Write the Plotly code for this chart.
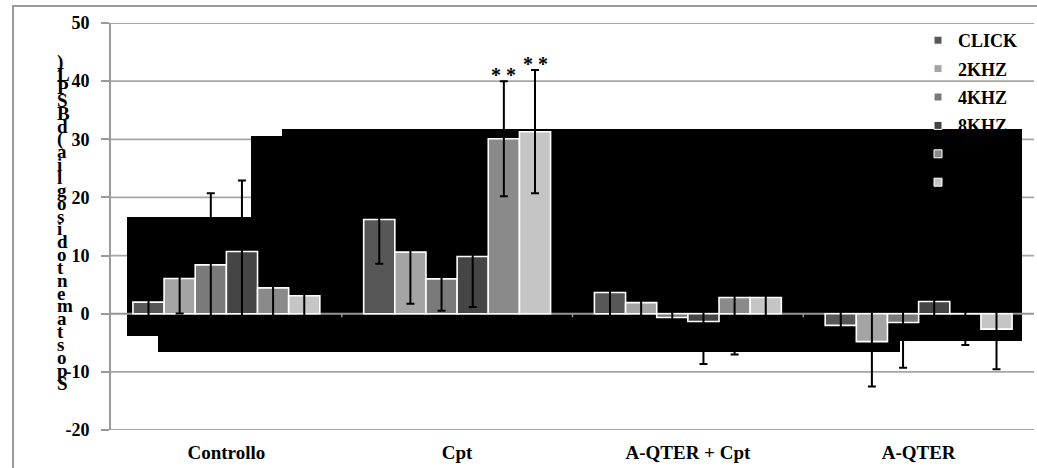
import plotly.graph_objects as go

# ---------------- data ----------------
categories = ["Controllo", "Cpt", "A-QTER + Cpt", "A-QTER"]
series_names = ["CLICK", "2KHZ", "4KHZ", "8KHZ", "16KHZ", "32KHZ"]
click_vals = [2.0, 16.2, 3.65, -2.0]
click_err = [5.0, 7.6, 5.0, 3.5]
k2_vals = [6.05, 10.6, 1.9, -4.8]
k2_err = [6.0, 8.9, 4.0, 7.7]
k4_vals = [8.4, 6.0, -0.65, -1.5]
k4_err = [12.3, 5.5, 4.0, 7.8]
k8_vals = [10.7, 9.85, -1.35, 2.1]
k8_err = [12.2, 8.7, 7.3, 5.0]
k16_vals = [4.45, 30.1, 2.8, 0.0]
k16_err = [7.0, 9.9, 9.8, 5.4]
k32_vals = [3.1, 31.3, 2.8, -2.65]
k32_err = [5.0, 10.6, 5.0, 6.9]
y_ticks = [-20, -10, 0, 10, 20, 30, 40, 50]
y_tick_text = ["-20", "-10", "0", "10", "20", "30", "40", "50"]
y_title = "Spostamento di soglia (dB SPL)"
star_label = "* *"
star_marks = [("Cpt", 4), ("Cpt", 5)]  # (category, series index)

values = [click_vals, k2_vals, k4_vals, k8_vals, k16_vals, k32_vals]
errors = [click_err, k2_err, k4_err, k8_err, k16_err, k32_err]
colors = ["#575757", "#a4a4a4", "#7a7a7a", "#454545", "#8a8a8a", "#c5c5c5"]

# ---------------- geometry ----------------
W, H = 1037, 468
ML, MR, MT, MB = 111, 3, 23, 38
PW, PH = W - ML - MR, H - MT - MB
BARGAP = 0.19
FONT = "Liberation Serif"
GRID = "#a6a6a6"
AXIS = "#959595"


def px2x(px):
    return (px - ML) / PW


def px2y(py):
    return (H - MB - py) / PH


fig = go.Figure()
for name, vals, errs, col in zip(series_names, values, errors, colors):
    fig.add_trace(go.Bar(
        name=name, x=categories, y=vals,
        marker=dict(color=col, line=dict(color="white", width=1.6)),
        error_y=dict(type="data", array=errs, visible=True,
                     color="black", thickness=2, width=4),
        showlegend=False,
    ))
# legend entries (small square keys)
for name, col in zip(series_names, colors):
    fig.add_trace(go.Scatter(
        name=name, x=[None], y=[None], mode="markers",
        marker=dict(symbol="square", size=8, color=col,
                    line=dict(color="white", width=1)),
        legendgroup=name, showlegend=True,
    ))

shapes = []
# gridlines (drawn as shapes so the black blocks can sit on top of them)
for t in y_ticks:
    if t == 0:
        continue
    shapes.append(dict(type="line", xref="paper", yref="y", x0=0, x1=1, y0=t, y1=t,
                       line=dict(color=GRID, width=1.8), layer="below"))
# black overlay blocks
blocks = [
    (127, 217, 251, 336),
    (158, 217, 251, 352),
    (251, 136, 282, 352),
    (282, 129, 900, 352),
    (900, 129, 1022, 341),
]
for x0, y0, x1, y1 in blocks:
    shapes.append(dict(type="rect", xref="paper", yref="paper",
                       x0=px2x(x0), x1=px2x(x1), y0=px2y(y1), y1=px2y(y0),
                       fillcolor="black", line=dict(width=0), layer="below"))
# zero axis line above the blocks
shapes.append(dict(type="line", xref="paper", yref="y", x0=0, x1=1, y0=0, y1=0,
                   line=dict(color=AXIS, width=2), layer="below"))
# category tick marks on the zero line
for b in range(1, len(categories)):
    shapes.append(dict(type="line", xref="x", yref="y", x0=b - 0.5, x1=b - 0.5,
                       y0=0, y1=-0.6, line=dict(color=AXIS, width=1.5),
                       layer="below"))
# outer chart border
shapes.append(dict(type="rect", xref="paper", yref="paper",
                   x0=px2x(13), x1=px2x(W + 20), y0=px2y(H + 20), y1=px2y(6),
                   line=dict(color="#9a9a9a", width=2), fillcolor="rgba(0,0,0,0)",
                   layer="above"))

annotations = []
# significance stars
w = (1 - BARGAP) / len(series_names)
for cat, k in star_marks:
    ci = categories.index(cat)
    xc = ci - (1 - BARGAP) / 2 + w * (k + 0.5)
    annotations.append(dict(x=xc, y=values[k][ci] + errors[k][ci], xref="x", yref="y",
                            text="<b>%s</b>" % star_label, showarrow=False,
                            yanchor="bottom", yshift=-7,
                            font=dict(family=FONT, size=20, color="black")))
# stacked (reversed) y-axis title
chars = [c for c in reversed(y_title) if c != " "]
top, bottom = 62, 383
step = (bottom - top) / (len(chars) - 1)
for i, c in enumerate(chars):
    annotations.append(dict(x=px2x(55), y=px2y(top + i * step), xref="paper", yref="paper",
                            text="<b>%s</b>" % c, showarrow=False, xanchor="left",
                            yanchor="middle",
                            font=dict(family=FONT, size=19, color="black")))

fig.update_layout(
    width=W, height=H,
    margin=dict(l=ML, r=MR, t=MT, b=MB),
    paper_bgcolor="white", plot_bgcolor="white",
    barmode="group", bargap=BARGAP, bargroupgap=0,
    showlegend=True,
    legend=dict(x=px2x(918), y=px2y(22), xanchor="left", yanchor="top",
                bgcolor="rgba(0,0,0,0)", traceorder="grouped", tracegroupgap=2,
                itemwidth=30,
                font=dict(family=FONT, size=18, color="black", weight="bold")),
    xaxis=dict(showgrid=False, showline=False, zeroline=False, ticks="",
               tickfont=dict(family=FONT, size=19, color="black", weight="bold"),
               ticklabelstandoff=9),
    yaxis=dict(range=[-20, 50], tickvals=y_ticks, ticktext=y_tick_text,
               showgrid=False, zeroline=False,
               showline=True, linecolor="#9a9a9a", linewidth=2,
               ticks="outside", ticklen=8, tickcolor="#9a9a9a", tickwidth=1.6,
               tickfont=dict(family=FONT, size=18, color="black", weight="bold"),
               ticklabelstandoff=8),
    shapes=shapes,
    annotations=annotations,
)

fig.write_html("out.html", config={"displayModeBar": False},
               post_script="document.body.style.margin='0';")
